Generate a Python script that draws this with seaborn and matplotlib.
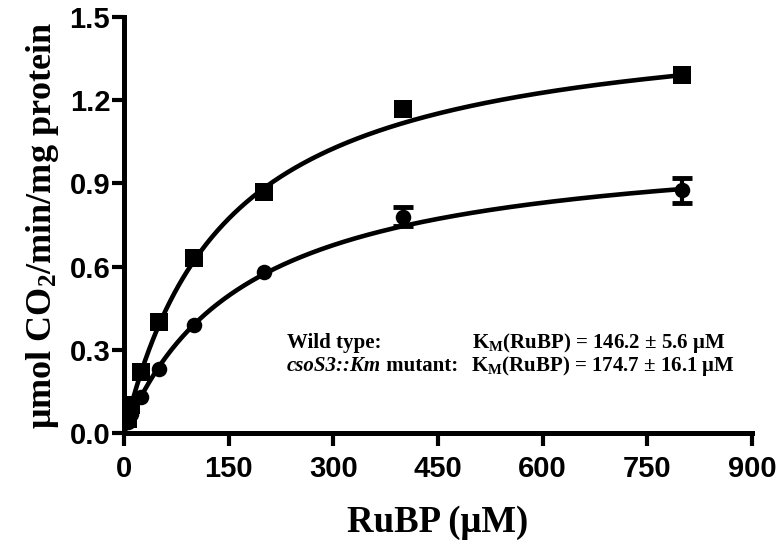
import numpy as np
import pandas as pd
import matplotlib
matplotlib.use("Agg")
import matplotlib.pyplot as plt
import seaborn as sns

# Substrate concentrations (µM) and measured activities
rubp = [5, 10, 25, 50, 100, 200, 400, 800]
wild_type = [0.05, 0.10, 0.22, 0.40, 0.63, 0.87, 1.17, 1.29]
wild_err = [0.0, 0.0, 0.0, 0.0, 0.0, 0.0, 0.0, 0.0]
mutant = [0.04, 0.07, 0.13, 0.23, 0.39, 0.58, 0.78, 0.875]
mutant_err = [0.0, 0.0, 0.0, 0.0, 0.0, 0.0, 0.035, 0.045]

# Michaelis-Menten fit parameters
km_wild, vmax_wild = 146.2, 1.526
km_mut, vmax_mut = 174.7, 1.072

x_ticks = [0, 150, 300, 450, 600, 750, 900]
y_ticks = [0.0, 0.3, 0.6, 0.9, 1.2, 1.5]

sns.set_style("ticks", {"axes.edgecolor": "black", "text.color": "black",
                        "axes.labelcolor": "black", "xtick.color": "black",
                        "ytick.color": "black"})
plt.rcParams["mathtext.fontset"] = "custom"
plt.rcParams["mathtext.rm"] = "Liberation Serif:bold"
plt.rcParams["mathtext.it"] = "Liberation Serif:italic:bold"
plt.rcParams["mathtext.bf"] = "Liberation Serif:bold"

fig = plt.figure(figsize=(7.82, 5.44), dpi=100)
ax = fig.add_axes([0.1586, 0.204, 0.803, 0.7648])

s_fit = np.linspace(0, 800, 400)
fits = pd.DataFrame({
    "s": np.concatenate([s_fit, s_fit]),
    "v": np.concatenate([vmax_wild * s_fit / (km_wild + s_fit),
                         vmax_mut * s_fit / (km_mut + s_fit)]),
    "strain": ["wt"] * len(s_fit) + ["mut"] * len(s_fit),
})
sns.lineplot(data=fits, x="s", y="v", hue="strain", palette=["black", "black"],
             linewidth=3.3, legend=False, ax=ax, zorder=2)

# error bars only where the spread is visible
for xs, ys, es in [(rubp, wild_type, wild_err), (rubp, mutant, mutant_err)]:
    sel = [i for i, e in enumerate(es) if e > 0]
    if sel:
        ax.errorbar([xs[i] for i in sel], [ys[i] for i in sel],
                    yerr=[es[i] for i in sel], fmt="none", ecolor="black",
                    elinewidth=3, capsize=7, capthick=3.5, zorder=3)

pts = pd.DataFrame({
    "s": rubp + rubp,
    "v": wild_type + mutant,
    "strain": ["wt"] * len(rubp) + ["mut"] * len(rubp),
})
sns.scatterplot(data=pts[pts.strain == "wt"], x="s", y="v", marker="s", s=150,
                color="black", edgecolor="black", linewidth=0, ax=ax, zorder=4)
sns.scatterplot(data=pts[pts.strain == "mut"], x="s", y="v", marker="o", s=125,
                color="black", edgecolor="black", linewidth=0, ax=ax, zorder=4)

ax.set_xlim(0, 900)
ax.set_ylim(0, 1.5)
ax.set_xticks(x_ticks)
ax.set_yticks(y_ticks)
ax.set_xticklabels([str(t) for t in x_ticks])
ax.set_yticklabels([f"{t:.1f}" for t in y_ticks])
for sp in ["top", "right"]:
    ax.spines[sp].set_visible(False)
for sp in ["left", "bottom"]:
    ax.spines[sp].set_linewidth(3.6)
    ax.spines[sp].set_color("black")
ax.tick_params(axis="both", direction="out", length=9, width=3, color="black",
               labelcolor="black")
ax.tick_params(axis="x", pad=7)
ax.tick_params(axis="y", pad=1)
for lab in ax.get_xticklabels() + ax.get_yticklabels():
    lab.set_fontfamily("Liberation Sans")
    lab.set_fontweight("bold")
    lab.set_fontsize(21)

ax.set_xlabel("RuBP (μM)", fontfamily="Liberation Serif", fontweight="bold",
              fontsize=26.5, labelpad=16, color="black")
ax.set_ylabel("μmol CO$_2$/min/mg protein", fontfamily="Liberation Serif",
              fontweight="bold", fontsize=26, labelpad=6, color="black")

txt_kw = dict(fontfamily="Liberation Serif", fontweight="bold", fontsize=15,
              va="baseline", ha="left", color="black")
ax.text(233, 0.307, "Wild type:", **txt_kw)
ax.text(499, 0.307, "K$_\\mathrm{M}$(RuBP) = 146.2 ± 5.6 μM", **txt_kw)
it = ax.text(233, 0.224, "csoS3::Km", fontstyle="italic", **txt_kw)
ax.annotate(" mutant:", xy=(1, 0), xycoords=it, va="bottom", ha="left",
            fontfamily="Liberation Serif", fontweight="bold", fontsize=15,
            color="black")
ax.text(497, 0.224, "K$_\\mathrm{M}$(RuBP) = 174.7 ± 16.1 μM", **txt_kw)

fig.savefig("out.png", dpi=100)
